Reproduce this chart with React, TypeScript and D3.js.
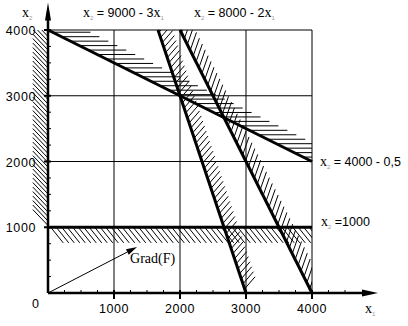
import React, { useEffect, useRef } from 'react';
import * as d3 from 'd3';

const W = 408;
const H = 326;

// axes / grid
const gridValues = [1000, 2000, 3000, 4000];
const minorTicksX = [250, 500, 750, 1250, 1500, 1750, 2250, 2500, 2750, 3250, 3500, 3750, 4250, 4500];
const minorTicksY = [250, 500, 750, 1250, 1500, 1750, 2250, 2500, 2750, 3250, 3500, 3750];
const xTickLabels = ['1000', '2000', '3000', '4000'];
const yTickLabels = ['1000', '2000', '3000', '4000'];
const xAxisEnd = 5000;
const yAxisEnd = 4420;

// constraints: x2 = intercept + slope * x1
const constraintIntercepts = [9000, 8000, 4000, 1000];
const constraintSlopes = [-3, -2, -0.5, 0];

// gradient of F
const gradF = [1350, 700];

// hatch look per constraint (px): step along line, stroke direction, stroke length
const hatchStyle = [
  { step: 5.3, dir: [1, -1.15], len: 16 },
  { step: 6.5, dir: [0.35, -1], len: 19 },
  { step: 10, dir: [1, 0], len: 38 },
  { step: 5.5, dir: [0.8, 1], len: 20 },
];

const SANS = '"Liberation Sans", Arial, sans-serif';
const SERIF = '"Liberation Serif", "Times New Roman", serif';

type Seg = [number, number, number, number];

function hatch(p0: number[], p1: number[], step: number, dir: number[], len: number, start = 0): Seg[] {
  const dx = p1[0] - p0[0], dy = p1[1] - p0[1];
  const L = Math.hypot(dx, dy);
  const ux = dx / L, uy = dy / L;
  const n = Math.hypot(dir[0], dir[1]);
  const vx = (dir[0] / n) * len, vy = (dir[1] / n) * len;
  const segs: Seg[] = [];
  for (let t = start; t <= L + 0.01; t += step) {
    const x = p0[0] + ux * t, y = p0[1] + uy * t;
    segs.push([x, y, x + vx, y + vy]);
  }
  return segs;
}

function addLabel(g: any, x: number, y: number, parts: [string, string][]) {
  // kind: 'x' = serif x, 's' = subscript, 't' = plain text
  const t = g.append('text').attr('x', x).attr('y', y).attr('fill', '#000');
  let shift = 0;
  parts.forEach(([kind, txt]) => {
    const sp = t.append('tspan');
    if (kind === 's') {
      sp.attr('font-family', SANS).attr('font-size', 6).attr('fill', '#999').attr('dy', 3 - shift);
      shift = 3;
    } else {
      if (shift) sp.attr('dy', -shift);
      shift = 0;
      if (kind === 'x') sp.attr('font-family', SERIF).attr('font-size', 14);
      else sp.attr('font-family', SANS).attr('font-size', 12.5);
    }
    sp.text(txt);
  });
}

const App = () => {
  const ref = useRef<SVGSVGElement>(null);

  useEffect(() => {
    const svg = d3.select(ref.current);
    svg.selectAll('*').remove();

    const x = d3.scaleLinear().domain([0, 4000]).range([48, 312]);
    const y = d3.scaleLinear().domain([0, 4000]).range([293, 30]);

    const defs = svg.append('defs');
    defs.append('clipPath').attr('id', 'box').append('rect')
      .attr('x', x(0)).attr('y', y(4000)).attr('width', x(4000) - x(0)).attr('height', y(0) - y(4000));
    defs.append('clipPath').attr('id', 'leftband').append('rect')
      .attr('x', 0).attr('y', y(4000)).attr('width', x(0)).attr('height', y(0) - y(4000));

    // grid
    const grid = svg.append('g').attr('stroke', '#000').attr('stroke-width', 1);
    gridValues.forEach(v => {
      grid.append('line').attr('x1', x(v)).attr('x2', x(v)).attr('y1', y(0)).attr('y2', y(4000));
      grid.append('line').attr('x1', x(0)).attr('x2', x(4000)).attr('y1', y(v)).attr('y2', y(v));
    });

    // constraint segments inside the box
    const segs = constraintIntercepts.map((a, i) => {
      const b = constraintSlopes[i];
      let lo = 0, hi = 4000;
      if (b < 0) {
        lo = Math.max(0, (4000 - a) / b);
        hi = Math.min(4000, -a / b);
      }
      return [[x(lo), y(a + b * lo)], [x(hi), y(a + b * hi)]];
    });

    // hatches
    const hg = svg.append('g').attr('stroke', '#000').attr('stroke-width', 1).attr('clip-path', 'url(#box)');
    segs.forEach((s, i) => {
      const st = hatchStyle[i];
      hatch(s[0], s[1], st.step, st.dir, st.len, st.step / 2).forEach(h => {
        hg.append('line').attr('x1', h[0]).attr('y1', h[1]).attr('x2', h[2]).attr('y2', h[3]);
      });
    });

    // x1 >= 0 hatch, left of axis
    const lg = svg.append('g').attr('stroke', '#000').attr('stroke-width', 1).attr('clip-path', 'url(#leftband)');
    hatch([x(0), y(4000)], [x(0), y(1000)], 4.5, [-1, -1.05], 22, 2).forEach(h => {
      lg.append('line').attr('x1', h[0]).attr('y1', h[1]).attr('x2', h[2]).attr('y2', h[3]);
    });

    // constraint lines
    const cg = svg.append('g').attr('stroke', '#000').attr('stroke-width', 3);
    segs.forEach(s => {
      cg.append('line').attr('x1', s[0][0]).attr('y1', s[0][1]).attr('x2', s[1][0]).attr('y2', s[1][1]);
    });

    // axes
    const ag = svg.append('g').attr('stroke', '#000');
    ag.append('line').attr('x1', x(0)).attr('x2', x(xAxisEnd) - 10).attr('y1', y(0)).attr('y2', y(0)).attr('stroke-width', 2.5);
    ag.append('line').attr('x1', x(0)).attr('x2', x(0)).attr('y1', y(0)).attr('y2', y(yAxisEnd) + 10).attr('stroke-width', 2.5);
    minorTicksX.forEach(v => ag.append('line').attr('x1', x(v)).attr('x2', x(v)).attr('y1', y(0)).attr('y2', y(0) - 3).attr('stroke-width', 1));
    minorTicksY.forEach(v => ag.append('line').attr('x1', x(0)).attr('x2', x(0) + 3).attr('y1', y(v)).attr('y2', y(v)).attr('stroke-width', 1));
    gridValues.forEach(v => {
      ag.append('line').attr('x1', x(v)).attr('x2', x(v)).attr('y1', y(0) - 3).attr('y2', y(0) + 6).attr('stroke-width', 2);
      ag.append('line').attr('x1', x(0) - 4).attr('x2', x(0) + 3).attr('y1', y(v)).attr('y2', y(v)).attr('stroke-width', 2);
    });

    // arrowheads
    const xt = x(xAxisEnd), yt = y(yAxisEnd);
    svg.append('path').attr('fill', '#000')
      .attr('d', `M${xt},${y(0)} L${xt - 16},${y(0) - 3.5} L${xt - 16},${y(0) + 3.5} Z`);
    svg.append('path').attr('fill', '#000')
      .attr('d', `M${x(0)},${yt} L${x(0) - 3},${yt + 18} L${x(0) + 3},${yt + 18} Z`);

    // Grad(F) arrow
    const gx0 = x(0), gy0 = y(0), gx1 = x(gradF[0]), gy1 = y(gradF[1]);
    const ang = Math.atan2(gy1 - gy0, gx1 - gx0);
    const bx = gx1 - 11 * Math.cos(ang), by = gy1 - 11 * Math.sin(ang);
    const px = -Math.sin(ang) * 3, py = Math.cos(ang) * 3;
    svg.append('line').attr('x1', gx0).attr('y1', gy0).attr('x2', bx).attr('y2', by).attr('stroke', '#000').attr('stroke-width', 1);
    svg.append('path').attr('fill', '#000')
      .attr('d', `M${gx1},${gy1} L${bx + px},${by + py} L${bx - px},${by - py} Z`);
    svg.append('text').attr('x', gx1 - 7).attr('y', gy1 + 16).attr('font-family', SERIF).attr('font-size', 14).text('Grad(F)');

    // tick labels
    const tl = svg.append('g').attr('font-family', SANS).attr('font-size', 12.5).attr('letter-spacing', 0.6);
    gridValues.forEach((v, i) => {
      tl.append('text').attr('x', x(v)).attr('y', y(0) + 20).attr('text-anchor', 'middle').text(xTickLabels[i]);
      tl.append('text').attr('x', x(0) - 12).attr('y', y(v) + 5).attr('text-anchor', 'end').text(yTickLabels[i]);
    });
    tl.append('text').attr('x', x(0) - 16).attr('y', y(0) + 15).attr('text-anchor', 'start').text('0');

    // equation & axis labels
    const lab = svg.append('g');
    addLabel(lab, 22, 17, [['x', 'x'], ['s', '2']]);
    addLabel(lab, 365, 313, [['x', 'x'], ['s', '1']]);
    addLabel(lab, 83, 17, [['x', 'x'], ['s', '2'], ['t', ' = 9000 - 3'], ['x', 'x'], ['s', '1']]);
    addLabel(lab, 194, 17, [['x', 'x'], ['s', '2'], ['t', ' = 8000 - 2'], ['x', 'x'], ['s', '1']]);
    addLabel(lab, x(4000) + 8, y(2000) + 4, [['x', 'x'], ['s', '2'], ['t', ' = 4000 - 0,5']]);
    addLabel(lab, x(4000) + 9, y(1000) - 1, [['x', 'x'], ['s', '2'], ['t', ' =1000']]);
  }, []);

  return (
    <svg ref={ref} width={W} height={H} style={{ position: 'absolute', left: 0, top: 0, background: '#fff' }} />
  );
};

export default App;
